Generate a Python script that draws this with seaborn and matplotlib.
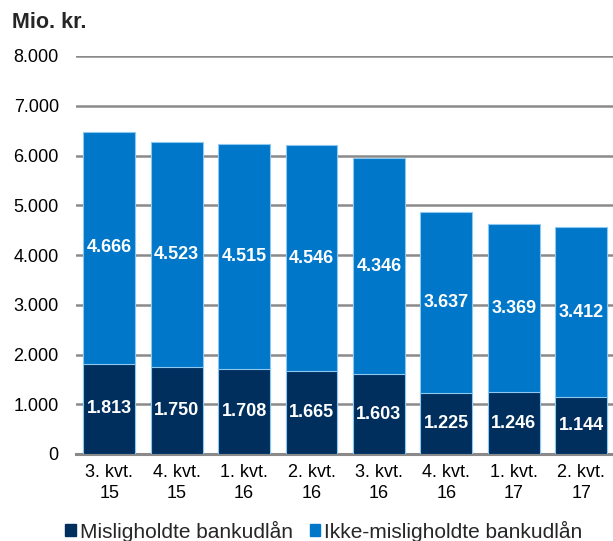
import matplotlib
matplotlib.use("Agg")
import matplotlib.pyplot as plt
import seaborn as sns
import pandas as pd
from matplotlib.ticker import FuncFormatter
from matplotlib.patches import Patch

categories = ["3. kvt.\n15", "4. kvt.\n15", "1. kvt.\n16", "2. kvt.\n16",
              "3. kvt.\n16", "4. kvt.\n16", "1. kvt.\n17", "2. kvt.\n17"]
misligholdte = [1813, 1750, 1708, 1665, 1603, 1225, 1246, 1144]
ikke_misligholdte = [4666, 4523, 4515, 4546, 4346, 3637, 3369, 3412]
series_names = ["Misligholdte bankudlån", "Ikke-misligholdte bankudlån"]
yticks = [0, 1000, 2000, 3000, 4000, 5000, 6000, 7000, 8000]

dark = "#002F5E"
light = "#0077C8"
edge = "#8CC8F0"

sns.set_theme(style="white")
plt.rcParams['font.family'] = ['Liberation Sans', 'DejaVu Sans']

df = pd.DataFrame({"cat": categories, "mis": misligholdte, "ikke": ikke_misligholdte})
df["total"] = df["mis"] + df["ikke"]

fig = plt.figure(figsize=(6.13, 5.41), dpi=100)
ax = fig.add_axes([75.5 / 613, 87 / 541, (615 - 75.5) / 613, (454 - 56) / 541])

sns.barplot(data=df, x="cat", y="total", color=light, width=0.77, ax=ax,
            edgecolor=edge, linewidth=0.8, saturation=1, zorder=2)
sns.barplot(data=df, x="cat", y="mis", color=dark, width=0.77, ax=ax,
            edgecolor=edge, linewidth=0.8, saturation=1, zorder=3)

for i, (m, k) in enumerate(zip(misligholdte, ikke_misligholdte)):
    ax.text(i, m / 2, f"{m:,}".replace(",", "."), ha="center", va="center",
            color="white", fontsize=13, fontweight="bold", zorder=5)
    ax.text(i, m + k / 2, f"{k:,}".replace(",", "."), ha="center", va="center",
            color="white", fontsize=13, fontweight="bold", zorder=5)

ax.set_ylim(0, 8000)
ax.set_xlim(-0.5, len(categories) - 0.5)
ax.set_yticks(yticks)
ax.yaxis.set_major_formatter(FuncFormatter(lambda v, p: f"{int(v):,}".replace(",", ".")))
ax.yaxis.grid(True, color="#8a8a8a", linewidth=1.8, zorder=0)
ax.set_axisbelow(True)
ax.set_xlabel("")
ax.set_ylabel("")
for s in ["top", "right", "left"]:
    ax.spines[s].set_visible(False)
ax.spines["bottom"].set_color("#8a8a8a")
ax.spines["bottom"].set_linewidth(2.2)
ax.tick_params(axis="y", length=0, pad=12, labelsize=13, labelcolor="black")
ax.tick_params(axis="x", length=0, pad=7, labelsize=13, labelcolor="black")
for lab in ax.get_xticklabels():
    lab.set_linespacing(1.3)

fig.text(12 / 613, 1 - 22 / 541, "Mio. kr.", fontsize=15.5, fontweight="bold",
         ha="left", va="center")

handles = [Patch(facecolor=dark, edgecolor=dark), Patch(facecolor=light, edgecolor=light)]
fig.legend(handles, series_names, loc="center", bbox_to_anchor=(324 / 613, 1 - 531 / 541),
           ncol=2, frameon=False, fontsize=15, handlelength=0.5, handleheight=0.5,
           handletextpad=0.2, columnspacing=0.8, borderpad=0)

fig.savefig("out.png", dpi=100)
